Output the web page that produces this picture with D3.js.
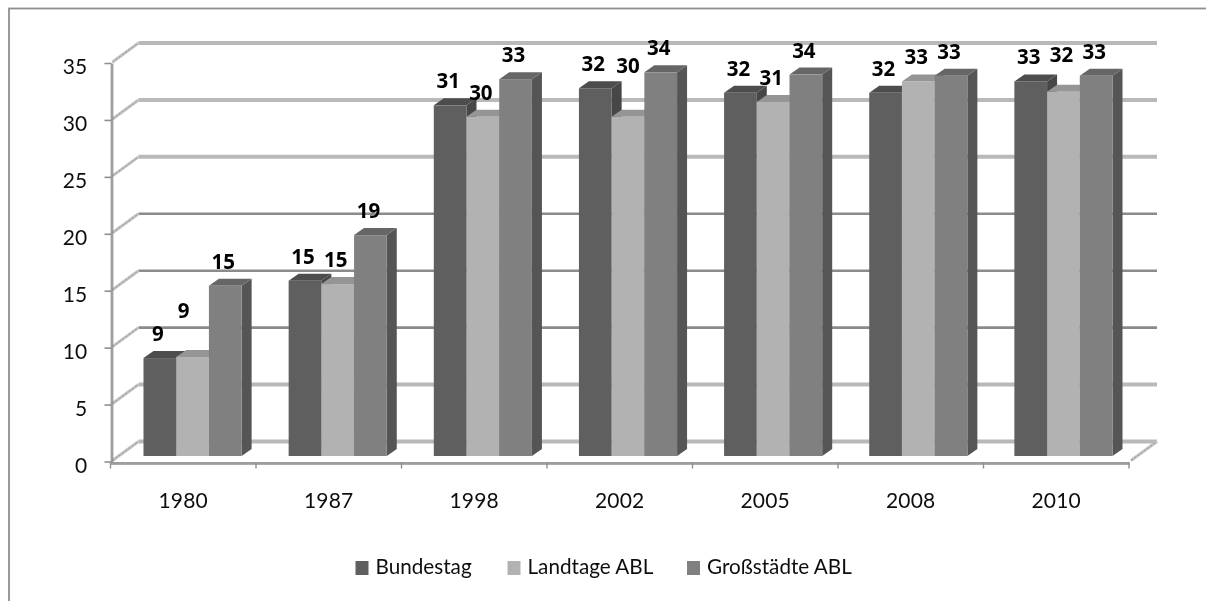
<!DOCTYPE html>
<html><head><meta charset="utf-8">
<script src="https://cdn.jsdelivr.net/npm/d3@7"></script>
<style>
html,body{margin:0;padding:0;background:#fff;overflow:hidden}
svg{display:block}
text{font-family:Lato,"Open Sans",sans-serif;fill:#111}
</style></head><body>
<svg id="c" width="1206" height="601"></svg>
<script>
const years = ["1980","1987","1998","2002","2005","2008","2010"];
const seriesNames = ["Bundestag","Landtage ABL","Großstädte ABL"];
const bundestag = [8.6,15.4,30.8,32.3,31.9,31.9,32.9];
const landtage  = [8.7,15.1,29.8,29.8,31.1,32.9,32.0];
const grossstaedte = [14.95,19.4,33.1,33.7,33.5,33.4,33.4];
const seriesValues = [bundestag,landtage,grossstaedte];
const yTicks = [0,5,10,15,20,25,30,35];

const frontCol = ["#5f5f5f","#b2b2b2","#808080"];
const sideCol  = ["#464646","#8c8c8c","#545454"];
const topCol   = ["#4e4e4e","#959595","#666666"];
const lightGrid = new Set([35,30,25,5,0]);
// manual nudges of labels that sit away from their bar: "series-year": [dx,dy]
const labelNudge = {"1-1980":[-7,-22],"1-2002":[2,-27],"1-2010":[0,-13]};

const svg = d3.select("#c");
const defs = svg.append("defs");
defs.append("filter").attr("id","soft").attr("x","-5%").attr("y","-5%").attr("width","110%").attr("height","110%")
  .append("feGaussianBlur").attr("stdDeviation",0.55);
defs.append("filter").attr("id","softText").attr("x","-5%").attr("y","-5%").attr("width","110%").attr("height","110%")
  .append("feGaussianBlur").attr("stdDeviation",0.3);

// frame, running off the page at right and bottom
svg.append("rect").attr("x",9).attr("y",8.5).attr("width",1240).attr("height",640)
  .attr("fill","none").attr("stroke","#8f8f8f").attr("stroke-width",1.8);

const plot = svg.append("g").attr("filter","url(#soft)");
const y = d3.scaleLinear().domain([0,35]).range([461.5,63]);
const xTicks = d3.scaleBand().domain(years).range([110.5,1129]);
const xBars = d3.scaleBand().domain(years).range([143.5,1112.5]).paddingInner(0.324).paddingOuter(0);
const xSeries = d3.scaleBand().domain(d3.range(3)).range([0,xBars.bandwidth()]);
const wallDx = 28, wallDy = 20, frontDy = 5.5, barDx = 10, barDy = 7;
const x0 = xTicks.range()[0], x1 = xTicks.range()[1];

// back wall gridlines
plot.append("g").selectAll("line").data(yTicks).join("line")
  .attr("x1",x0+wallDx).attr("x2",x1+wallDx)
  .attr("y1",d=>y(d)-wallDy).attr("y2",d=>y(d)-wallDy)
  .attr("stroke",d=>lightGrid.has(d)?"#b9b9b9":"#8b8b8b")
  .attr("stroke-width",d=>lightGrid.has(d)?4:2.6);
// left wall diagonals + right floor edge
const diag = yTicks.map(v=>({x:x0,v})).concat([{x:x1,v:0}]);
plot.append("g").selectAll("line").data(diag).join("line")
  .attr("x1",d=>d.x+2).attr("y1",d=>y(d.v)-1)
  .attr("x2",d=>d.x+wallDx).attr("y2",d=>y(d.v)-wallDy)
  .attr("stroke","#c2c2c2").attr("stroke-width",3);
plot.append("g").selectAll("line").data(diag).join("line")
  .attr("x1",d=>d.x+2).attr("y1",d=>y(d.v)-1)
  .attr("x2",d=>d.x+wallDx).attr("y2",d=>y(d.v)-wallDy)
  .attr("stroke","#999").attr("stroke-width",1).attr("stroke-dasharray","2 2");

// bars
const barData = years.flatMap((yr,i)=>seriesValues.map((s,k)=>({yr,k,v:s[i]})));
const pts = a=>a.map(p=>p.join(",")).join(" ");
const bars = plot.append("g").selectAll("g").data(barData).join("g");
const base = y(0)-frontDy;
const L = d=>xBars(d.yr)+xSeries(d.k), R = d=>L(d)+xSeries.bandwidth(), T = d=>y(d.v)-frontDy;
bars.append("polygon").attr("fill",d=>sideCol[d.k])
  .attr("points",d=>pts([[R(d),T(d)],[R(d)+barDx,T(d)-barDy],[R(d)+barDx,base-barDy],[R(d),base]]));
bars.append("polygon").attr("fill",d=>topCol[d.k])
  .attr("points",d=>pts([[L(d),T(d)],[L(d)+barDx,T(d)-barDy],[R(d)+barDx,T(d)-barDy],[R(d),T(d)]]));
bars.append("rect").attr("fill",d=>frontCol[d.k])
  .attr("x",L).attr("y",T).attr("width",xSeries.bandwidth()).attr("height",d=>base-T(d));

// axes
const axisCol = "#8f8f8f";
const yAxis = svg.append("g").attr("transform",`translate(${x0+1},0)`).attr("filter","url(#soft)")
  .call(d3.axisLeft(y).tickValues(yTicks).tickSize(7).tickPadding(17).tickSizeOuter(0));
const xAxis = svg.append("g").attr("transform",`translate(0,${y(0)+1})`).attr("filter","url(#soft)")
  .call(d3.axisBottom(xTicks).tickSize(0).tickPadding(31));
xAxis.append("g").selectAll("line").data(d3.range(8)).join("line")
  .attr("x1",i=>x0+i*xTicks.step()).attr("x2",i=>x0+i*xTicks.step())
  .attr("y1",0).attr("y2",6).attr("stroke",axisCol).attr("stroke-width",1.4);
[yAxis,xAxis].forEach(a=>{
  a.select(".domain").attr("stroke",axisCol).attr("stroke-width",2.4);
  a.selectAll(".tick line").attr("stroke",axisCol).attr("stroke-width",1.6);
  a.selectAll("text").attr("font-size",21).attr("font-family",'Lato,"Open Sans",sans-serif')
    .attr("fill","#111").attr("letter-spacing",0.2);
});
yAxis.selectAll("text").attr("dy","0.62em").attr("y",-2.5);

// value labels
const fmt = d3.format(".0f");
svg.append("g").attr("filter","url(#softText)").selectAll("text").data(barData).join("text")
  .attr("text-anchor","middle").attr("font-weight",700).attr("font-size",20.5)
  .style("font-family",'"Open Sans",sans-serif').style("fill","#000")
  .attr("x",d=>(L(d)+R(d))/2-2+((labelNudge[d.k+"-"+d.yr]||[0,0])[0]))
  .attr("y",d=>T(d)-17+((labelNudge[d.k+"-"+d.yr]||[0,0])[1]))
  .text(d=>fmt(d.v));

// legend
const legendX = d3.scaleOrdinal().domain(seriesNames).range([355.5,507.5,687]);
const leg = svg.append("g").attr("filter","url(#softText)").selectAll("g").data(seriesNames).join("g")
  .attr("transform",d=>`translate(${legendX(d)},561)`);
leg.append("rect").attr("width",13).attr("height",14).attr("fill",(d,i)=>frontCol[i]);
leg.append("text").attr("x",20).attr("y",13).attr("font-size",20.7).text(d=>d);
</script>
</body></html>
